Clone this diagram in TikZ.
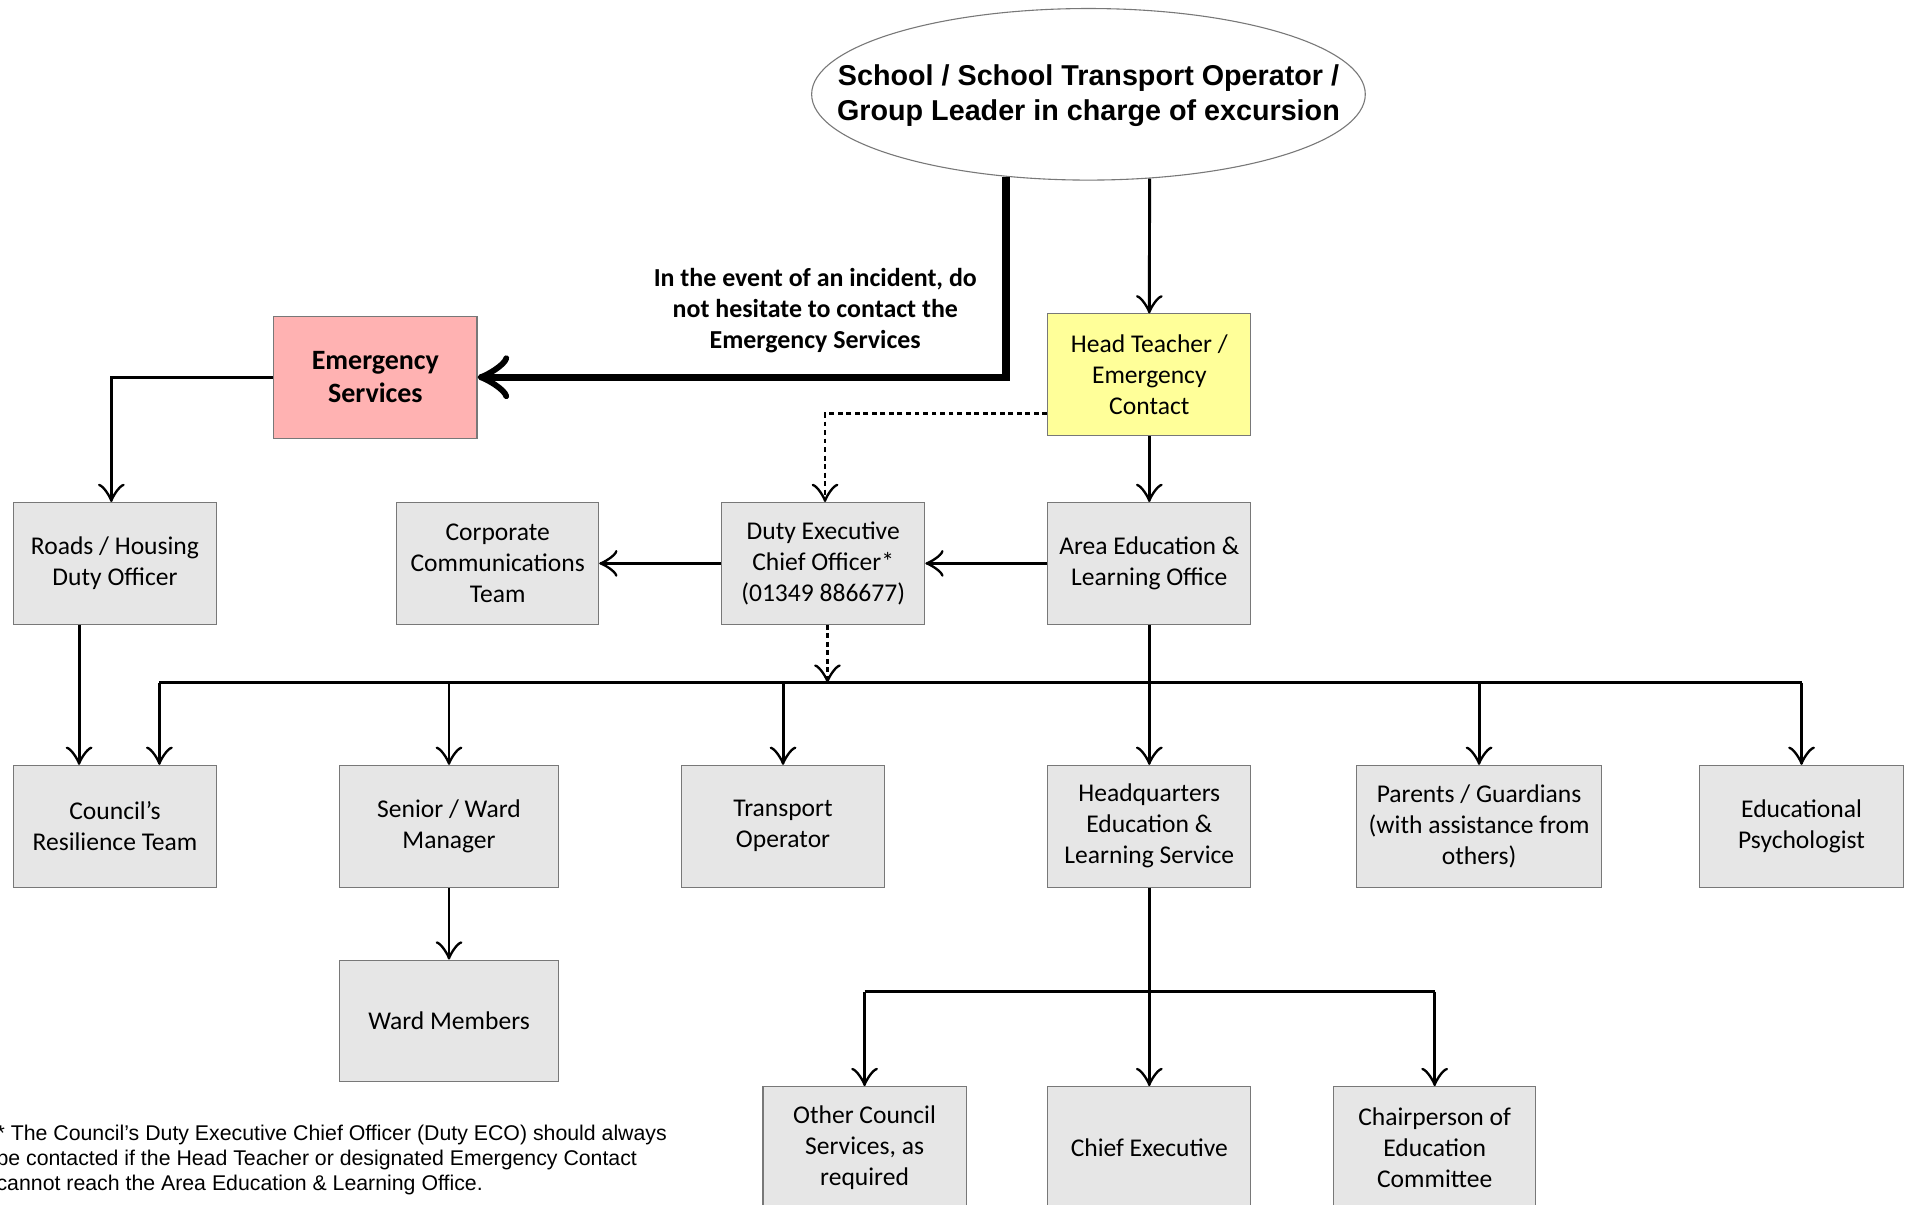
\documentclass[tikz,border=0pt]{standalone}
\usepackage{fontspec}
\setmainfont{Carlito}
\newfontfamily\arialf{Liberation Sans}
\usetikzlibrary{shapes.geometric,arrows.meta,calc}
\definecolor{boxgray}{RGB}{230,230,230}
\definecolor{boxline}{RGB}{120,120,120}
\definecolor{espink}{RGB}{255,178,178}
\definecolor{htyellow}{RGB}{255,255,153}
\begin{document}
\begin{tikzpicture}[x=1pt,y=-1pt,
  box/.style={draw=boxline, line width=0.9pt, fill=boxgray, minimum width=167pt, minimum height=100pt, inner sep=0pt, align=center, font=\fontsize{21}{25.5}\selectfont},
  link/.style={line width=2.4pt},
  conn/.style={line width=2.4pt, -{Classical TikZ Rightarrow[length=15pt,width=22pt]}},
  bigconn/.style={line width=6pt, -{Classical TikZ Rightarrow[length=26pt,width=36pt]}},
  dashconn/.style={conn, dash pattern=on 4pt off 3pt}
]
\useasboundingbox (0,0) rectangle (1568,990);
\fill[white] (0,0) rectangle (1568,990);
\clip (0,0) rectangle (1568,990);

% top ellipse
\node[ellipse, draw=boxline, line width=0.9pt, minimum width=455pt, minimum height=141pt, inner sep=0pt] (E) at (894.5,77.5) {};
\node[align=center, inner sep=0pt, font=\arialf\bfseries\fontsize{23.6}{29}\selectfont] (ET) at ([yshift=-1pt]E.center)
  {School / School Transport Operator /\\Group Leader in charge of excursion};

% boxes
\node[box, fill=espink, font=\bfseries\fontsize{23}{27.5}\selectfont] (ES) at (308.5,310) {Emergency\\Services};
\node[box, fill=htyellow] (HT) at (944.5,308) {Head Teacher /\\Emergency\\Contact};

\node[box] (RH) at (94.5,463) {Roads / Housing\\Duty Officer};
\node[box, minimum width=166pt] (CC) at (409,463) {Corporate\\Communications\\Team};
\node[box] (DE) at (676.5,463) {Duty Executive\\Chief Officer*\\(01349 886677)};
\node[box] (AE) at (944.5,463) {Area Education \&\\Learning Office};

\node[box] (CR) at (94.5,679) {Council’s\\Resilience Team};
\node[box, minimum width=180pt] (SW) at (369,679) {Senior / Ward\\Manager};
\node[box] (TO) at (643.5,679) {Transport\\Operator};
\node[box] (HQ) at (944.5,679) {Headquarters\\Education \&\\Learning Service};
\node[box, minimum width=201pt] (PG) at (1215.5,679) {Parents / Guardians\\(with assistance from\\others)};
\node[box] (EP) at (1480.5,679) {Educational\\Psychologist};

\node[box, minimum width=180pt] (WM) at (369,839) {Ward Members};

\node[box] (OC) at (710.5,943) {Other Council\\Services, as\\required};
\node[box] (CE) at (944.5,943) {Chief Executive};
\node[box, minimum width=166pt] (CH) at (1179,943) {Chairperson of\\Education\\Committee};

% label
\node[align=center, font=\bfseries\fontsize{21.3}{25.5}\selectfont] (LB) at (670,255.5)
  {In the event of an incident, do\\not hesitate to contact the\\Emergency Services};

% footnote
\node[anchor=north west, align=left, inner sep=0pt, font=\arialf\fontsize{17.5}{20.8}\selectfont] (FN) at (-3,924)
  {* The Council’s Duty Executive Chief Officer (Duty ECO) should always\\be contacted if the Head Teacher or designated Emergency Contact\\cannot reach the Area Education \& Learning Office.};

% coordinates
\coordinate (busy) at (0,561);
\coordinate (hqy) at (0,815);
\coordinate (crin) at ([xshift=36.5pt]CR.north);
\coordinate (rhout) at ([xshift=-29.5pt]RH.south);
\coordinate (rhin) at ([xshift=-3pt]RH.north);
\coordinate (dein) at ([xshift=1.5pt]DE.north);
\coordinate (deout) at ([xshift=3.5pt]DE.south);
\coordinate (htout) at ([yshift=-32pt]HT.west);

% connectors
\draw[bigconn] (E.-135) |- (ES.east);
\draw[conn] (E.-54) -- (HT.north);
\draw[conn] (ES.west) -| (rhin);
\draw[dashconn] (htout) -| (dein);
\draw[conn] (HT.south) -- (AE.north);
\draw[conn] (AE.west) -- (DE.east);
\draw[conn] (DE.west) -- (CC.east);
\draw[dashconn] (deout) -- (deout |- busy);
\draw[link] (crin |- busy) -- (EP.north |- busy);
\draw[conn] (crin |- busy) -- (crin);
\draw[conn] (SW.north |- busy) -- (SW.north);
\draw[conn] (TO.north |- busy) -- (TO.north);
\draw[conn] (AE.south) -- (HQ.north);
\draw[conn] (PG.north |- busy) -- (PG.north);
\draw[conn] (EP.north |- busy) -- (EP.north);
\draw[conn] (rhout) -- (rhout |- CR.north);
\draw[conn] (SW.south) -- (WM.north);
\draw[conn] (HQ.south) -- (CE.north);
\draw[link] (OC.north |- hqy) -- (CH.north |- hqy);
\draw[conn] (OC.north |- hqy) -- (OC.north);
\draw[conn] (CH.north |- hqy) -- (CH.north);
\end{tikzpicture}
\end{document}
